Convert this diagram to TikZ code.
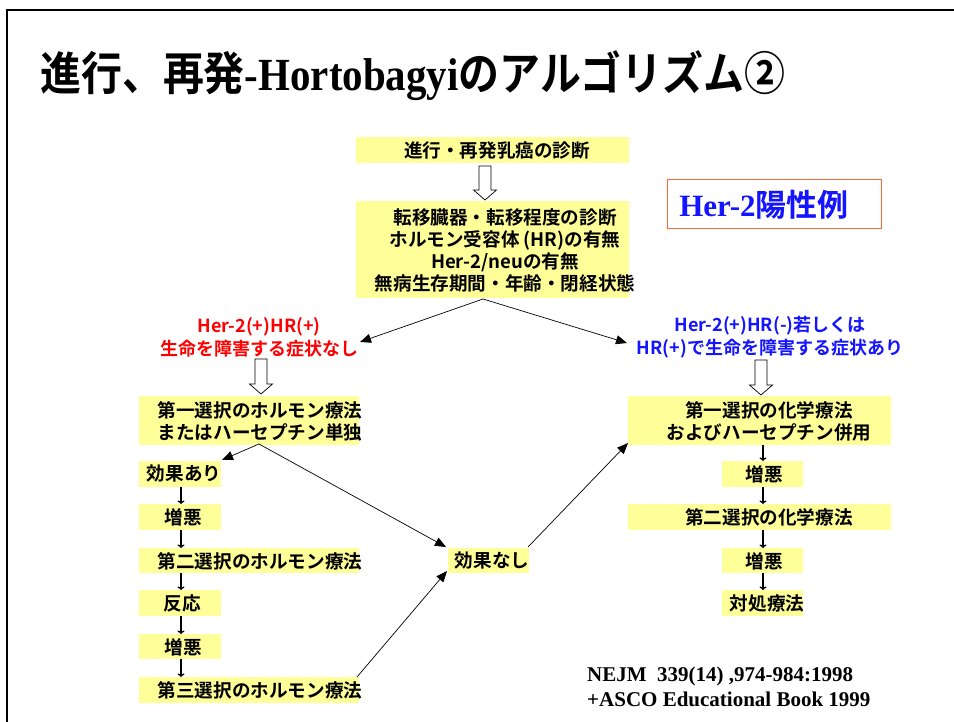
\documentclass[tikz,border=0pt]{standalone}
\usepackage{fontspec}
\usepackage{graphicx}
\setmainfont{Liberation Serif}
\newfontfamily\jp{Noto Sans CJK JP}[BoldFont={Noto Sans CJK JP Bold}]
\usetikzlibrary{arrows.meta}
\definecolor{ybg}{RGB}{255,255,153}
\definecolor{hred}{RGB}{255,0,0}
\definecolor{hblue}{RGB}{20,20,255}
\definecolor{hborder}{RGB}{255,102,51}
\newcommand\hollowdown[3]{%
  \draw[fill=white, line width=0.7pt, line join=miter] (#1-6,#2) -- (#1+6,#2) -- (#1+6,#3-10) -- (#1+11.5,#3-10) -- (#1,#3) -- (#1-11.5,#3-10) -- (#1-6,#3-10) -- cycle;}
\begin{document}
\begin{tikzpicture}[x=1pt,y=-1pt,
  ybox/.style={fill=ybg, draw=none, inner sep=0pt},
  txt/.style={font=\jp\bfseries\fontsize{18.6}{22}\selectfont, inner sep=0pt, align=center},
  lbl/.style={font=\jp\bfseries\fontsize{18}{23}\selectfont, inner sep=0pt, align=center},
  conn/.style={line width=0.7pt, -{Triangle[length=11pt,width=9pt]}},
  small/.style={line width=1.4pt, -{To[length=3.5pt,width=7pt]}}]
\useasboundingbox (0,0) rectangle (954,722);
\fill[white] (0,0) rectangle (954,722);
% frame
\draw[line width=2.5pt] (7,722) -- (7,10) -- (954,10);
% title
\node[anchor=base west, inner sep=0pt] (title) at (40,91)
  {\scalebox{0.89}[1]{\jp\bfseries\fontsize{46}{50}\selectfont 進行、再発{\rmfamily\bfseries -Hortobagyi}のアルゴリズム②}};
% top boxes
\node[ybox, minimum width=273pt, minimum height=26pt] (b1) at (492.5,150) {};
\node[txt] (b1t) at (497,150) {進行・再発乳癌の診断};
\node[ybox, minimum width=273pt, minimum height=97pt] (b2) at (492.5,249.5) {};
\node[txt] (b2t) at (505,250) {転移臓器・転移程度の診断\\ホルモン受容体 (HR)の有無\\Her-2/neuの有無\\無病生存期間・年齢・閉経状態};
\hollowdown{485}{166}{200}
% Her-2 box
\node[draw=hborder, line width=1pt, minimum width=214pt, minimum height=49pt, inner sep=0pt] (her) at (774,204.5) {};
\node[inner sep=0pt, text=hblue] (hert) at (764,205) {\fontsize{31}{34}\selectfont\bfseries Her-2{\jp\bfseries 陽性例}};
% labels
\node[lbl, text=hred] (labL) at (259,337) {Her-2(+)HR(+)\\生命を障害する症状なし};
\node[lbl, text=hblue] (labR) at (770,337) {Her-2(+)HR(-)若しくは\\HR(+)で生命を障害する症状あり};
\coordinate (b2s) at (483,299);
\coordinate (tipL) at (360,342);
\coordinate (tipR) at (627,343);
\draw[conn] (b2s) -- (tipL);
\draw[conn] (b2s) -- (tipR);
\hollowdown{261}{359}{394}
\hollowdown{761}{360}{395}
% left column
\node[ybox, minimum width=220pt, minimum height=49pt] (L1) at (249,420.5) {};
\node[txt] (L1t) at (260,421) {第一選択のホルモン療法\\またはハーセプチン単独};
\node[ybox, minimum width=82pt, minimum height=26pt] (ea) at (180,474) {};
\node[txt] (eat) at (184,474) {効果あり};
\node[ybox, minimum width=82pt, minimum height=26pt] (z1) at (180,517) {};
\node[txt] (z1t) at (183,517) {増悪};
\node[ybox, minimum width=220pt, minimum height=25pt] (L2) at (249,560.5) {};
\node[txt] (L2t) at (260,561) {第二選択のホルモン療法};
\node[ybox, minimum width=82pt, minimum height=26pt] (hn) at (180,603) {};
\node[txt] (hnt) at (182,603) {反応};
\node[ybox, minimum width=82pt, minimum height=25pt] (z2) at (180,646.5) {};
\node[txt] (z2t) at (183,647) {増悪};
\node[ybox, minimum width=220pt, minimum height=26pt] (L3) at (249,690) {};
\node[txt] (L3t) at (260,690) {第三選択のホルモン療法};
% middle
\node[ybox, minimum width=81pt, minimum height=25pt] (nashi) at (488.5,560.5) {};
\node[txt] (nashit) at (492,561) {効果なし};
% right column
\node[ybox, minimum width=263pt, minimum height=49pt] (R1) at (759.5,420.5) {};
\node[txt] (R1t) at (769,421) {第一選択の化学療法\\およびハーセプチン併用};
\node[ybox, minimum width=81pt, minimum height=26pt] (rz1) at (762.5,474) {};
\node[txt] (rz1t) at (764,474) {増悪};
\node[ybox, minimum width=263pt, minimum height=26pt] (R2) at (759.5,517) {};
\node[txt] (R2t) at (769,517) {第二選択の化学療法};
\node[ybox, minimum width=81pt, minimum height=25pt] (rz2) at (762.5,560.5) {};
\node[txt] (rz2t) at (764,561) {増悪};
\node[ybox, minimum width=81pt, minimum height=26pt] (tai) at (762.5,603) {};
\node[txt] (tait) at (767,603) {対処療法};
% connectors
\coordinate (L1s) at (259,444);
\draw[conn] (L1s) -- (222,460);
\draw[conn] (L1s) -- (446,547);
\draw[conn] (357,677) -- (447,571);
\draw[conn] (528,547) -- (628,443);
% small arrows left
\draw[small] (181,487) -- (181,504);
\draw[small] (181,530) -- (181,548);
\draw[small] (181,573) -- (181,590);
\draw[small] (181,616) -- (181,634);
\draw[small] (181,659) -- (181,677);
% small arrows right
\draw[small] (763,445) -- (763,461);
\draw[small] (763,487) -- (763,504);
\draw[small] (763,530) -- (763,548);
\draw[small] (763,573) -- (763,590);
% citation
\node[anchor=base west, inner sep=0pt, align=left, font=\bfseries\fontsize{21}{25}\selectfont] (cite) at (587,706)
  {NEJM\ \ 339(14) ,974-984:1998\\+ASCO Educational Book 1999};
\end{tikzpicture}
\end{document}
